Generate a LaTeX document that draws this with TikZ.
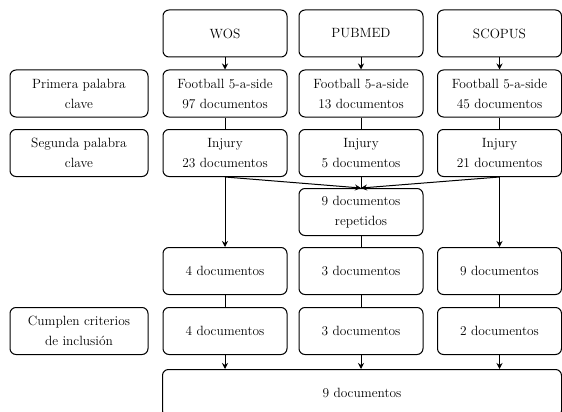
\documentclass[tikz,border=0pt]{standalone}
\usetikzlibrary{arrows.meta}

\begin{document}
\begin{tikzpicture}[x=1pt,y=-1pt]
    \tikzstyle{caja}=[draw,line width=1pt,rounded corners=6pt,minimum height=47pt,inner sep=0pt,align=center,font=\fontsize{13.4}{20}\selectfont]
    \tikzstyle{etiqueta}=[caja,minimum width=138pt]
    \tikzstyle{base}=[caja,minimum width=124pt]
    \tikzstyle{flecha}=[line width=1pt,-{Stealth[length=6pt,width=6pt]}]
    \tikzstyle{linea}=[line width=1pt]
    \useasboundingbox (0,0) rectangle (562,412);
    % bases de datos
    \node[base] (wos) at (225,33.5) {WOS};
    \node[base] (pubmed) at (361,33.5) {PUBMED};
    \node[base] (scopus) at (499.5,33.5) {SCOPUS};
    % primera palabra
    \node[etiqueta] (primera) at (79,93.5) {Primera palabra\\clave};
    \node[base] (wosA) at (225,93.5) {Football 5-a-side\\97 documentos};
    \node[base] (pubmedA) at (361,93.5) {Football 5-a-side\\13 documentos};
    \node[base] (scopusA) at (499.5,93.5) {Football 5-a-side\\45 documentos};
    % segunda palabra
    \node[etiqueta] (segunda) at (79,153) {Segunda palabra\\clave};
    \node[base] (wosB) at (225,153) {Injury\\23 documentos};
    \node[base] (pubmedB) at (361,153) {Injury\\5 documentos};
    \node[base] (scopusB) at (499.5,153) {Injury\\21 documentos};
    % repetidos
    \node[base] (rep) at (361,212) {9 documentos\\repetidos};
    \node[base] (wosC) at (225,271) {4 documentos};
    \node[base] (pubmedC) at (361,271) {3 documentos};
    \node[base] (scopusC) at (499.5,271) {9 documentos};
    % inclusion
    \node[etiqueta] (cumplen) at (79,331) {Cumplen criterios\\de inclusión};
    \node[base] (wosD) at (225,331) {4 documentos};
    \node[base] (pubmedD) at (361,331) {3 documentos};
    \node[base] (scopusD) at (499.5,331) {2 documentos};
    \node[caja,minimum width=399pt] (total) at (362,393) {9 documentos};

    \draw[flecha] (wos) -- (wosA);
    \draw[flecha] (pubmed) -- (pubmedA);
    \draw[flecha] (scopus) -- (scopusA);
    \draw[linea] (wosA) -- (wosB);
    \draw[linea] (pubmedA) -- (pubmedB);
    \draw[linea] (scopusA) -- (scopusB);
    \draw[flecha] (wosB) -- (wosC);
    \draw[flecha] (scopusB) -- (scopusC);
    \draw[flecha] (wosB.south) -- (rep.north);
    \draw[flecha] (scopusB.south) -- (rep.north);
    \draw[linea] (pubmedB) -- (rep);
    \draw[linea] (rep) -- (pubmedC);
    \draw[linea] (wosC) -- (wosD);
    \draw[linea] (pubmedC) -- (pubmedD);
    \draw[linea] (scopusC) -- (scopusD);
    \draw[flecha] (wosD) -- (wosD |- total.north);
    \draw[flecha] (pubmedD) -- (pubmedD |- total.north);
    \draw[flecha] (scopusD) -- (scopusD |- total.north);
\end{tikzpicture}
\end{document}
